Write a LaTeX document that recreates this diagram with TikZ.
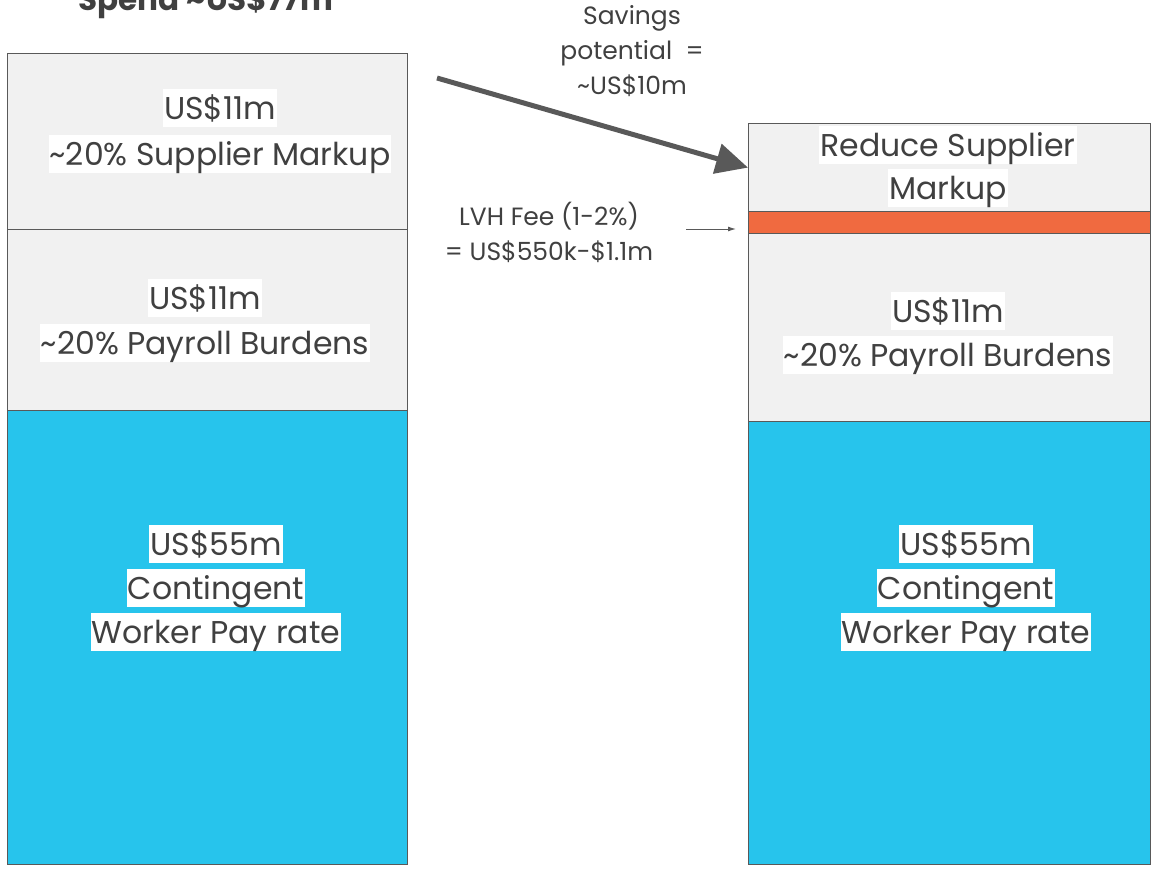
\documentclass[tikz,border=0pt]{standalone}
\usepackage{fontspec}
\setmainfont{Poppins}
\usetikzlibrary{arrows.meta,positioning,calc}
\definecolor{boxgrey}{HTML}{F1F1F1}
\definecolor{edgegrey}{HTML}{595959}
\definecolor{payblue}{HTML}{27C4EC}
\definecolor{feeorange}{HTML}{F06A40}
\definecolor{txtgrey}{HTML}{404040}
\tikzset{
  seg/.style     = {draw=edgegrey, line width=1.2pt, fill=boxgrey, inner sep=0pt, anchor=north west},
  lseg/.style    = {seg, minimum width=400pt},
  rseg/.style    = {seg, minimum width=402pt},
  lbl/.style     = {fill=white, text=txtgrey, inner sep=1pt, text height=29pt, text depth=6.5pt,
                    font=\fontsize{31.5}{36}\selectfont},
  note/.style    = {text=txtgrey, align=center, inner sep=1pt, font=\fontsize{25}{35}\selectfont},
  bigar/.style   = {-{Triangle[length=32pt,width=30pt]}, line width=5pt, draw=edgegrey},
  ar/.style      = {-{Latex[length=8pt,width=5pt]}, line width=1pt, draw=edgegrey}
}
\newcommand{\tl}{\textasciitilde}

\begin{document}
\begin{tikzpicture}[x=1pt, y=-1pt]
\useasboundingbox (0,0) rectangle (1153,869);
\clip (0,0) rectangle (1153,869);
% ---- title, cut off at the top ----
\node[anchor=base, text=txtgrey, font=\bfseries\fontsize{31}{36}\selectfont, inner sep=0pt] (title) at (206,11) {Spend \tl US\$77m};

% ---- today ----
\node[lseg, minimum height=176pt] (lmark) at (7,53) {};
\node[lseg, minimum height=181pt] (lpay)  at (7,229) {};
\node[lseg, minimum height=454pt, fill=payblue] (lwork) at (7,410) {};
\node[lbl] at (220,108) {US\$11m};
\node[lbl] at (220,154) {\tl 20\% Supplier Markup};
\node[lbl] at (205,298) {US\$11m};
\node[lbl] at (205,343) {\tl 20\% Payroll Burdens};
\node[lbl] at (216,544) {US\$55m};
\node[lbl] at (216,588) {Contingent};
\node[lbl] at (216,632) {Worker Pay rate};

% ---- with LVH ----
\node[rseg, minimum height=88pt]  (rmark) at (748,123) {};
\node[rseg, minimum height=22pt, fill=feeorange] (rfee) at (748,211) {};
\node[rseg, minimum height=188pt] (rpay)  at (748,233) {};
\node[rseg, minimum height=443pt, fill=payblue] (rwork) at (748,421) {};
\node[lbl] at (948,145) {Reduce Supplier};
\node[lbl] at (948,188) {Markup};
\node[lbl] at (948,311) {US\$11m};
\node[lbl] at (948,355) {\tl 20\% Payroll Burdens};
\node[lbl] at (966,544) {US\$55m};
\node[lbl] at (966,588) {Contingent};
\node[lbl] at (966,632) {Worker Pay rate};

% ---- notes and arrows ----
\node[note] (save) at (632,51) {Savings\\potential~~=\\\tl US\$10m};
\node[note] (fee)  at (549,232) {LVH Fee (1-2\%)\\= US\$550k-\$1.1m};
\coordinate (savefrom) at (437,78);
\coordinate (feefrom)  at (686,229);
\draw[bigar] (savefrom) -- (rmark.west);
\draw[ar, shorten >=12pt] (feefrom) -- (feefrom -| rfee.west);
\end{tikzpicture}
\end{document}
